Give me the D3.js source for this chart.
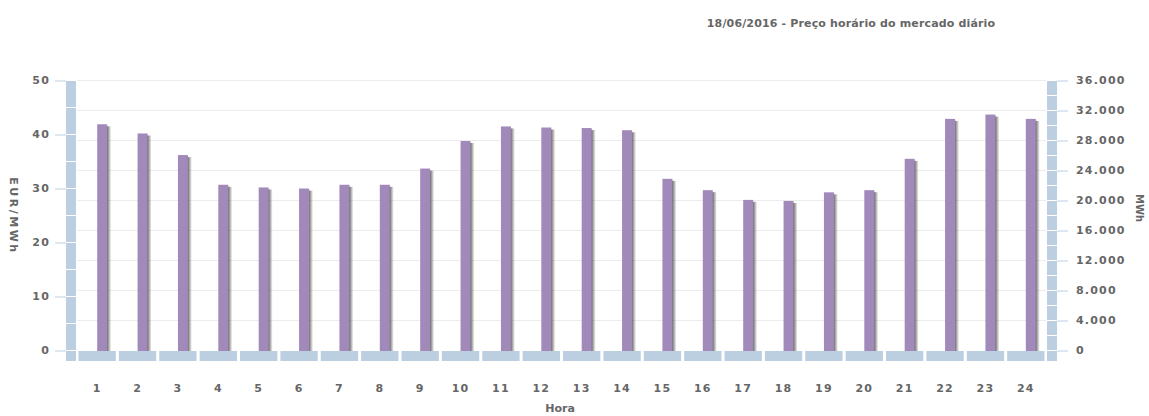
<!DOCTYPE html>
<html>
<head>
<meta charset="utf-8">
<script src="https://cdn.jsdelivr.net/npm/d3@7"></script>
<style>
  body { margin: 0; background: #fff; }
  text { font-family: "DejaVu Sans", Verdana, sans-serif; fill: #666; }
</style>
</head>
<body>
<div id="chart"></div>
<script>
const hours = d3.range(1, 25).map(String);
const prices = [41.8, 40.1, 36.1, 30.6, 30.1, 29.9, 30.6, 30.6, 33.6, 38.7, 41.4, 41.2,
                41.1, 40.7, 31.7, 29.6, 27.8, 27.6, 29.2, 29.6, 35.4, 42.8, 43.6, 42.8];
const leftTicks = [0, 10, 20, 30, 40, 50];
const rightTicks = [0, 4000, 8000, 12000, 16000, 20000, 24000, 28000, 32000, 36000];

const title = "18/06/2016 - Preço horário do mercado diário";
const width = 1149;
const height = 416;
const wall = 10;

const svg = d3.select('#chart')
  .append('svg')
  .attr('width', width)
  .attr('height', height);

const x = d3.scaleBand()
  .domain(hours)
  .range([77, 1046])
  .padding(0);

const yL = d3.scaleLinear()
  .domain([0, 50])
  .range([350, 80]);

const yR = d3.scaleLinear()
  .domain([0, 36000])
  .range([350, 80]);

const ptFormat = d3.formatLocale({ decimal: ",", thousands: ".", grouping: [3], currency: ["", ""] }).format(",");

const defs = svg.append("defs");
const grad = defs.append("linearGradient").attr("id", "shadow");
grad.append("stop").attr("offset", "0%").attr("stop-color", "#444").attr("stop-opacity", 0.95);
grad.append("stop").attr("offset", "100%").attr("stop-color", "#444").attr("stop-opacity", 0);

// grid lines (right axis)
svg.append("g")
  .selectAll("line")
  .data(rightTicks.slice(1))
  .join("line")
  .attr("x1", 77)
  .attr("x2", 1046)
  .attr("y1", d => yR(d) + 0.5)
  .attr("y2", d => yR(d) + 0.5)
  .attr("stroke", "#ececec");

// left wall
svg.append("g")
  .attr("fill", "#bccfe0")
  .selectAll("rect")
  .data(d3.range(0, 50, 5))
  .join("rect")
  .attr("x", 66)
  .attr("width", wall)
  .attr("y", d => yL(d + 5) + 1)
  .attr("height", d => yL(d) - yL(d + 5) - 1);

// right wall
svg.append("g")
  .attr("fill", "#bccfe0")
  .selectAll("rect")
  .data(d3.range(0, 36000, 2000))
  .join("rect")
  .attr("x", 1047)
  .attr("width", wall)
  .attr("y", d => yR(d + 2000) + 1)
  .attr("height", d => yR(d) - yR(d + 2000) - 1);

// floor
const floor = svg.append("g").attr("fill", "#bccfe0");
floor.selectAll("rect")
  .data(hours)
  .join("rect")
  .attr("x", d => x(d) + 1.5)
  .attr("width", x.bandwidth() - 3)
  .attr("y", yL(0) + 1)
  .attr("height", wall);
floor.append("rect").attr("x", 66).attr("y", yL(0) + 1).attr("width", wall).attr("height", wall);
floor.append("rect").attr("x", 1047).attr("y", yL(0) + 1).attr("width", wall).attr("height", wall);

// bars
const bars = svg.append("g");
bars.selectAll("rect.sh")
  .data(prices)
  .join("rect")
  .attr("class", "sh")
  .attr("x", (d, i) => x(hours[i]) + x.bandwidth() / 2 + 9)
  .attr("y", d => yL(d) + 2)
  .attr("width", 5)
  .attr("height", d => yL(0) - yL(d) - 1)
  .attr("fill", "url(#shadow)");
bars.selectAll("rect.bar")
  .data(prices)
  .join("rect")
  .attr("class", "bar")
  .attr("x", (d, i) => x(hours[i]) + x.bandwidth() / 2)
  .attr("y", d => yL(d))
  .attr("width", 10)
  .attr("height", d => yL(0) - yL(d) + 1)
  .attr("fill", "#a189b9");

// axes
function yAxisLeft(g) {
  g.attr("transform", "translate(66,0)")
    .call(d3.axisLeft(yL).tickValues(leftTicks).tickSize(11).tickPadding(5))
    .call(g => g.select(".domain").remove())
    .call(g => g.selectAll("line").attr("stroke", "#bccfe0").attr("transform", "translate(0,0.5)"));
}

function yAxisRight(g) {
  g.attr("transform", "translate(1057,0)")
    .call(d3.axisRight(yR).tickValues(rightTicks).tickSize(11).tickPadding(8).tickFormat(ptFormat))
    .call(g => g.select(".domain").remove())
    .call(g => g.selectAll("line").attr("stroke", "#bccfe0").attr("transform", "translate(0,0.5)"));
}

function xAxis(g) {
  g.attr("transform", "translate(0,360)")
    .call(d3.axisBottom(x).tickSize(0).tickPadding(24))
    .call(g => g.select(".domain").remove());
}

svg.append("g").call(yAxisLeft);
svg.append("g").call(yAxisRight);
svg.append("g").call(xAxis);

svg.selectAll(".tick text")
  .attr("font-family", "DejaVu Sans, sans-serif")
  .attr("font-weight", "bold")
  .attr("font-size", 11)
  .attr("letter-spacing", 1.2)
  .attr("fill", "#666");

// titles
svg.append("text")
  .attr("x", 851)
  .attr("y", 27)
  .attr("text-anchor", "middle")
  .attr("font-size", 11)
  .attr("font-weight", "bold")
  .attr("letter-spacing", 0.15)
  .text(title);

svg.append("text")
  .attr("transform", "translate(10,216) rotate(90)")
  .attr("text-anchor", "middle")
  .attr("font-size", 11)
  .attr("font-weight", "bold")
  .attr("letter-spacing", 2.5)
  .text("EUR/MWh");

svg.append("text")
  .attr("transform", "translate(1136,208) rotate(90)")
  .attr("text-anchor", "middle")
  .attr("font-size", 10)
  .attr("font-weight", "bold")
  .text("MWh");

svg.append("text")
  .attr("x", 560)
  .attr("y", 412)
  .attr("text-anchor", "middle")
  .attr("font-size", 11)
  .attr("font-weight", "bold")
  .text("Hora");
</script>
</body>
</html>
